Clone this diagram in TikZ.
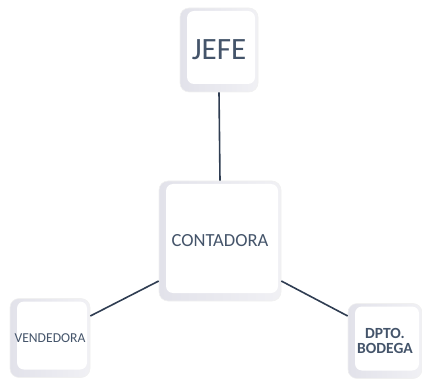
\documentclass[tikz,border=0pt]{standalone}
\usepackage{fontspec}
\setmainfont{Carlito}
\definecolor{txt}{HTML}{44546A}
\definecolor{lnk}{HTML}{2F3D52}
\definecolor{bev}{HTML}{E2E2EA}
\begin{document}
\begin{tikzpicture}[x=1pt,y=-1pt,
  keycap/.style={rectangle, rounded corners=9pt, draw=gray!12, line width=0.6pt,
    left color=bev, right color=bev!50, text=txt, align=center, inner sep=0pt,
    path picture={\fill[white, rounded corners=7pt]
      ([xshift=7pt,yshift=8pt]path picture bounding box.south west) rectangle
      ([xshift=-3pt,yshift=-3pt]path picture bounding box.north east);}},
  link/.style={draw=lnk, line width=1.6pt}]
\useasboundingbox (0,0) rectangle (422,379);
\node[keycap, minimum width=78pt, minimum height=84pt, font=\fontsize{31}{33}\selectfont] (jefe) at (219,50) {JEFE};
\node[keycap, minimum width=122pt, minimum height=120pt, font=\fontsize{18.5}{20}\selectfont] (contadora) at (220,241) {CONTADORA};
\node[keycap, minimum width=80pt, minimum height=79pt, font=\fontsize{13.6}{15}\selectfont] (vendedora) at (50,338) {VENDEDORA};
\node[keycap, minimum width=74pt, minimum height=75pt, font=\bfseries\fontsize{15.5}{14.5}\selectfont] (bodega) at (385,341) {DPTO.\\BODEGA};
\draw[link] (jefe.south) -- (contadora.north);
\draw[link] ([yshift=-40pt]contadora.west) -- ([yshift=22pt]vendedora.east);
\draw[link] ([yshift=-40pt]contadora.east) -- ([yshift=25pt]bodega.west);
\end{tikzpicture}
\end{document}
